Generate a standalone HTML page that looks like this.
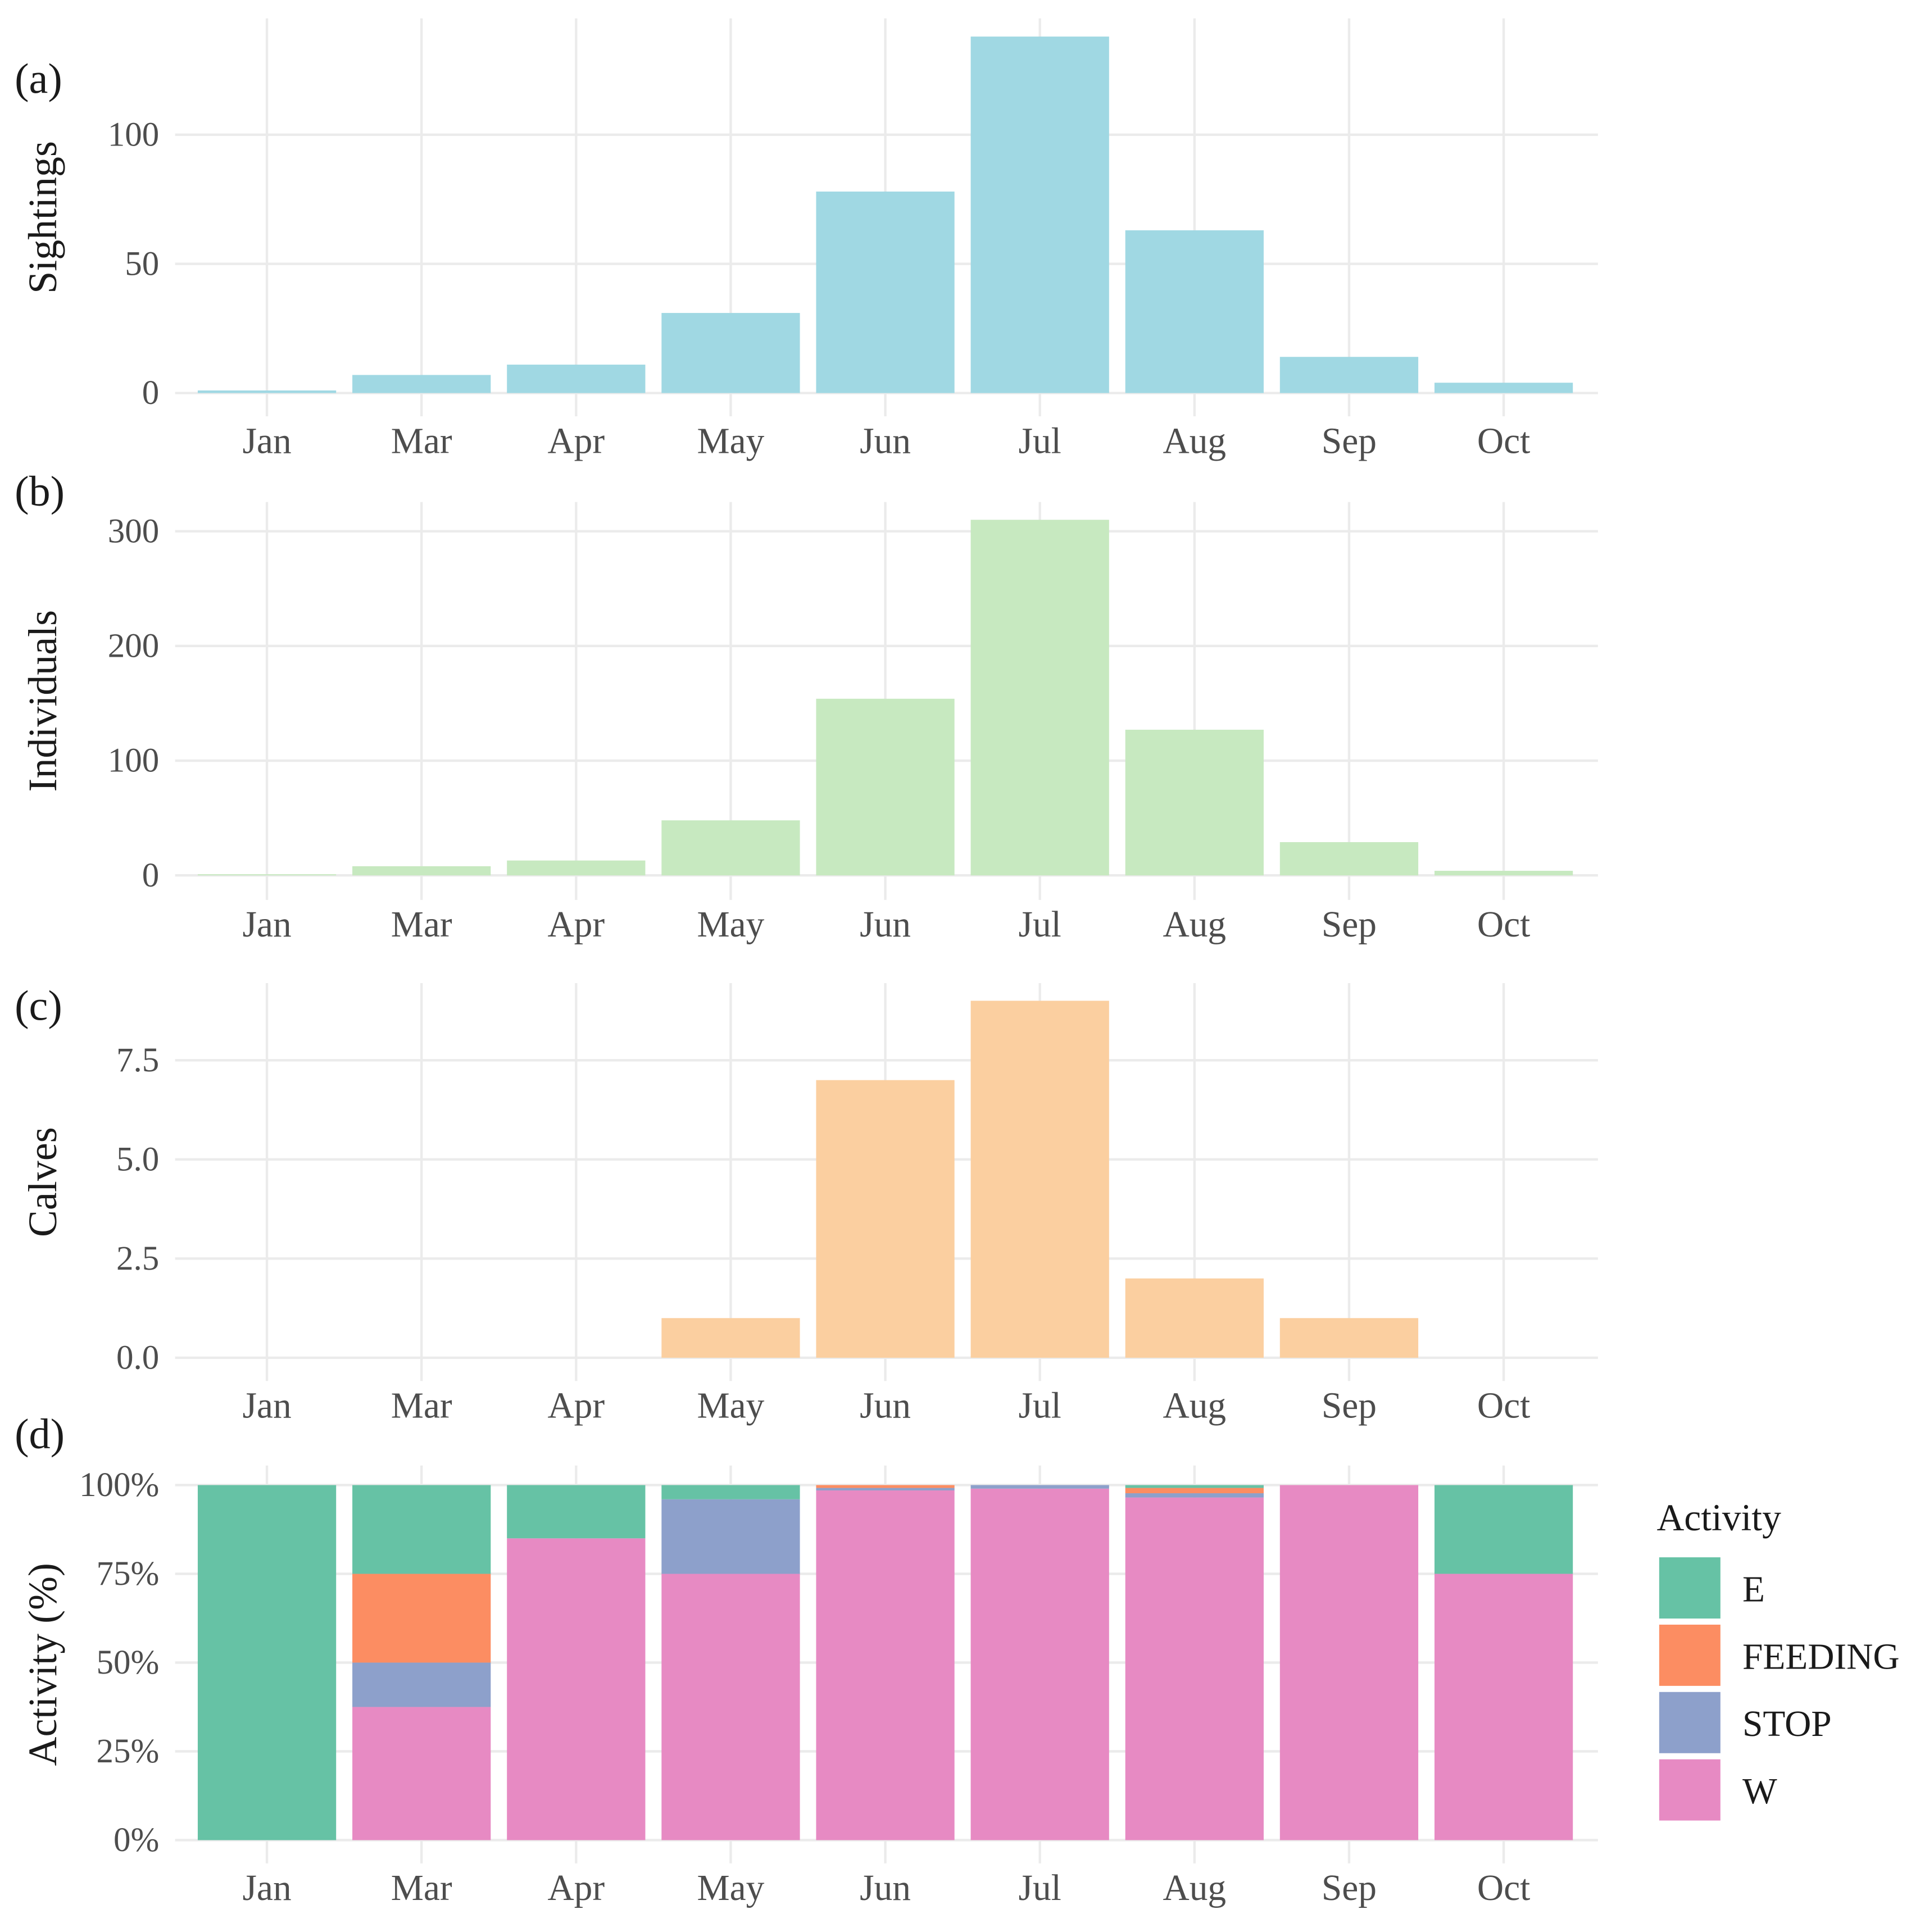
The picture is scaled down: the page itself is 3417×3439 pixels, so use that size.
<!DOCTYPE html>
<html><head><meta charset="utf-8"><style>
html,body{margin:0;padding:0;background:#fff}
svg{display:block;font-family:"Liberation Serif",serif}
</style></head><body>
<svg id="chart" width="3417" height="3439" viewBox="0 0 1568 1578" xmlns="http://www.w3.org/2000/svg"></svg>
<script>
const months = ["Jan","Mar","Apr","May","Jun","Jul","Aug","Sep","Oct"];
const sightings = [1,7,11,31,78,138,63,14,4];
const individuals = [1,8,13,48,154,310,127,29,4];
const calves = [0,0,0,1,7,9,2,1,0];
const activityNames = ["E","FEEDING","STOP","W"];
const actE = [100,25,15,4,0,0,0.8,0,25];
const actFeeding = [0,25,0,0,0.8,0,1.5,0,0];
const actStop = [0,12.5,0,21,0.7,1,1.2,0,0];
const actW = [0,37.5,85,75,98.5,99,96.5,100,75];
const ticksA = [0,50,100];
const ticksB = [0,100,200,300];
const ticksC = [0,2.5,5,7.5];
const ticksD = [0,25,50,75,100];

const NS="http://www.w3.org/2000/svg";
const svg=document.getElementById('chart');
function el(tag,attrs,parent){const e=document.createElementNS(NS,tag);for(const k in attrs)e.setAttribute(k,attrs[k]);(parent||svg).appendChild(e);return e;}
const xL=143,xR=1305,x0=218,step=126.25,bw=113;
const xPos=i=>x0+i*step;

function panel(cfg){
  const g=el('g',{});
  
  
  const y=v=>cfg.zeroY-(v-cfg.vmin)*cfg.pxPer;
  months.forEach((m,i)=>{
    const l=el('line',{x1:xPos(i),x2:xPos(i),y1:cfg.top,y2:cfg.bot,stroke:'#ebebeb','stroke-width':2},g);
    
    
  });
  cfg.ticks.forEach(t=>{
    const l=el('line',{x1:xL,x2:xR,y1:y(t),y2:y(t),stroke:'#ebebeb','stroke-width':2},g);
    
    
    const tx=el('text',{x:130,y:y(t)+9,'text-anchor':'end','font-size':28,fill:'#4d4d4d'},g);
    tx.textContent=cfg.fmt(t);
    
    
  });
  cfg.draw(g,y);
  months.forEach((m,i)=>{
    const tx=el('text',{x:xPos(i),y:cfg.bot+30,'text-anchor':'middle','font-size':30,fill:'#4d4d4d'},g);
    tx.textContent=m;
    
    
  });
  const yt=el('text',{x:0,y:0,'text-anchor':'middle','font-size':33,fill:'#1a1a1a',transform:`translate(46 ${(cfg.top+cfg.bot)/2}) rotate(-90)`},g);
  yt.textContent=cfg.title;
  
  
  const pl=el('text',{x:12,y:cfg.labelY,'font-size':35,fill:'#1a1a1a'},g);
  pl.textContent=cfg.label;
  
  
}
function bars(data,color){
  return (g,y)=>data.forEach((v,i)=>{
    if(v<=0)return;
    const r=el('rect',{x:xPos(i)-bw/2,y:y(v),width:bw,height:y(0)-y(v),fill:color},g);
    
    
  });
}
panel({name:'panel-a-sightings',top:15,bot:340,zeroY:321,vmin:0,pxPer:2.11,ticks:ticksA,fmt:t=>String(t),title:'Sightings',label:'(a)',labelY:76,draw:bars(sightings,'#a0d8e3')});
panel({name:'panel-b-individuals',top:410,bot:735,zeroY:715,vmin:0,pxPer:0.937,ticks:ticksB,fmt:t=>String(t),title:'Individuals',label:'(b)',labelY:413,draw:bars(individuals,'#c7e9c0')});
panel({name:'panel-c-calves',top:803,bot:1128,zeroY:1109,vmin:0,pxPer:32.4,ticks:ticksC,fmt:t=>t.toFixed(1),title:'Calves',label:'(c)',labelY:833,draw:bars(calves,'#fbcfa0')});
const actColors=['#66c2a5','#fc8d62','#8da0cb','#e78ac3'];
const series=[actE,actFeeding,actStop,actW];
panel({name:'panel-d-activity',top:1197,bot:1522,zeroY:1503,vmin:0,pxPer:2.9,ticks:ticksD,fmt:t=>t+'%',title:'Activity (%)',label:'(d)',labelY:1183,
 draw:(g,y)=>months.forEach((m,i)=>{
   let base=0;
   for(let s=3;s>=0;s--){
     const v=series[s][i];
     if(v<=0)continue;
     const r=el('rect',{x:xPos(i)-bw/2,y:y(base+v),width:bw,height:y(base)-y(base+v),fill:actColors[s]},g);
     
     
     base+=v;
   }
 })});
const lg=el('g',{});


const lt=el('text',{x:1353,y:1250,'font-size':31,fill:'#1a1a1a'},lg);
lt.textContent='Activity';


activityNames.forEach((n,i)=>{
  const k=el('rect',{x:1355,y:1272+i*55,width:50,height:50,fill:actColors[i]},lg);
  
  
  const t=el('text',{x:1423,y:1308+i*55,'font-size':30,fill:'#1a1a1a'},lg);
  t.textContent=n;
  
  
});
</script>
</body></html>
